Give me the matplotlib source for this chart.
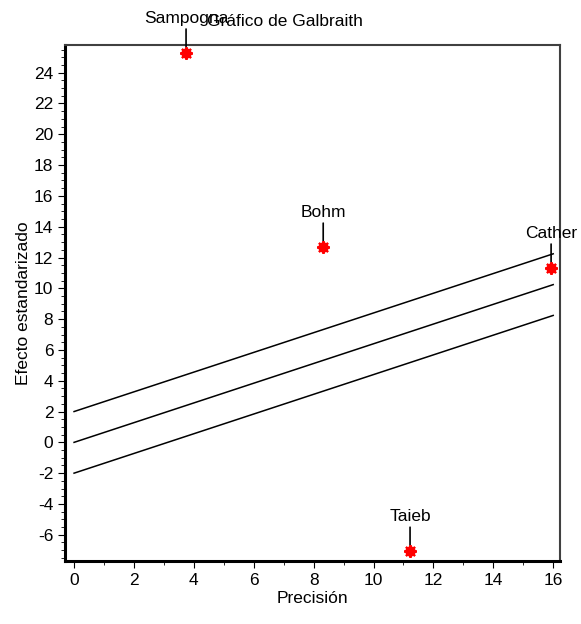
import numpy as np
import matplotlib.pyplot as plt
from matplotlib.ticker import MultipleLocator

plt.rcParams['font.family'] = ['Liberation Sans', 'DejaVu Sans']
plt.rcParams['axes.unicode_minus'] = False

# -----------------------------
# DATA
# -----------------------------
studies = ["Sampogna", "Bohm", "Cather", "Taieb"]
precision = [3.74, 8.32, 15.93, 11.22]
std_effect = [25.3, 12.7, 11.34, -7.04]

slope = 0.64
band = 2.0
line_x = [0, 16]

# -----------------------------
# PLOT
# -----------------------------
fig = plt.figure(figsize=(5.81, 6.24), dpi=100)
ax = fig.add_axes([0.112, 0.101, 0.852, 0.827])

xs = np.array(line_x)
for off in (band, 0, -band):
    ax.plot(xs, slope * xs + off, color="black", linewidth=1.1)

ax.plot(precision, std_effect, "o", color="red", markersize=6.5,
        markeredgecolor="red", zorder=5)
ax.plot(precision, std_effect, marker=(8, 2, 0), linestyle="none",
        color="red", markersize=9, markeredgewidth=1.5, zorder=5)

for name, x, y in zip(studies, precision, std_effect):
    ax.annotate(name, xy=(x, y), xytext=(0, 19), textcoords="offset points",
                ha="center", va="bottom", fontsize=12.5,
                arrowprops=dict(arrowstyle="-", color="black", lw=1.2,
                                shrinkA=0, shrinkB=4))

ax.set_xlim(-0.3, 16.23)
ax.set_ylim(-7.7, 25.8)
ax.xaxis.set_major_locator(MultipleLocator(2))
ax.xaxis.set_minor_locator(MultipleLocator(1))
ax.yaxis.set_major_locator(MultipleLocator(2))
ax.yaxis.set_minor_locator(MultipleLocator(0.5))
ax.tick_params(which="major", direction="out", length=5, labelsize=12.5)
ax.tick_params(which="minor", direction="out", length=3)

for side in ("left", "bottom"):
    ax.spines[side].set_linewidth(2.2)
for side in ("top", "right"):
    ax.spines[side].set_linewidth(1.5)
    ax.spines[side].set_color("#404040")

ax.set_xlabel("Precisión", fontsize=12.5, labelpad=2)
ax.set_ylabel("Efecto estandarizado", fontsize=12.5, labelpad=2)
fig.text(0.49, 0.966, "Gráfico de Galbraith", ha="center", va="center",
         fontsize=12.5)

plt.savefig("out.png", dpi=100)
